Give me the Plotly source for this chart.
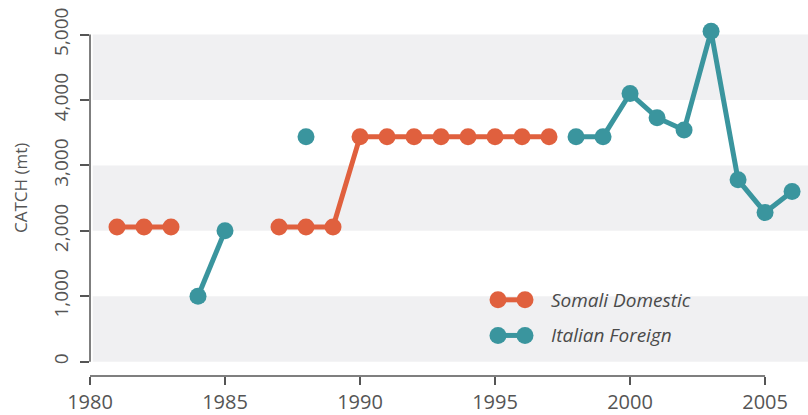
import plotly.graph_objects as go

# Annual catch (metric tonnes); None marks years with no record
somali_years = list(range(1981, 1998))
somali_catch = [2060, 2060, 2060, None, None, None, 2060, 2060, 2060,
                3440, 3440, 3440, 3440, 3440, 3440, 3440, 3440]

italian_years = [1984, 1985, 1986, 1988, 1989, 1998, 1999, 2000, 2001,
                 2002, 2003, 2004, 2005, 2006]
italian_catch = [1000, 2000, None, 3440, None, 3440, 3440, 4100, 3730,
                 3540, 5050, 2780, 2280, 2600]

x_ticks = [1980, 1985, 1990, 1995, 2000, 2005]
y_ticks = [0, 1000, 2000, 3000, 4000, 5000]
y_tick_text = ["0", "1,000", "2,000", "3,000", "4,000", "5,000"]

ORANGE = "#E0603E"
TEAL = "#3A959E"
BAND = "#F0F0F2"
AXIS = "#555555"
FONT = "Open Sans"

W, H = 808, 415
ML, MB = 90, 35
X_RANGE = [1980, 2006.59]
Y_RANGE = [-219, 5529]

fig = go.Figure()

fig.add_trace(go.Scatter(
    x=somali_years, y=somali_catch, mode="lines+markers",
    name="Somali Domestic", connectgaps=False,
    line=dict(color=ORANGE, width=5),
    marker=dict(color=ORANGE, size=17),
))
fig.add_trace(go.Scatter(
    x=italian_years, y=italian_catch, mode="lines+markers",
    name="Italian Foreign", connectgaps=False,
    line=dict(color=TEAL, width=5),
    marker=dict(color=TEAL, size=17),
))

shapes = []
# alternating background bands
for lo in (0, 2000, 4000):
    shapes.append(dict(type="rect", xref="x", yref="y", layer="below",
                       x0=1980.1, x1=X_RANGE[1], y0=lo, y1=lo + 1000,
                       fillcolor=BAND, line=dict(width=0)))
# detached axis lines
shapes.append(dict(type="line", xref="paper", yref="y", x0=0, x1=0,
                   y0=0, y1=5000, line=dict(color=AXIS, width=1.5)))
shapes.append(dict(type="line", xref="x", yref="paper", x0=1980, x1=2005,
                   y0=0, y1=0, line=dict(color=AXIS, width=1.5)))

# custom legend: a short line with a dot at each end
plot_w = W - ML
plot_h = H - MB


def px_x(p):
    return (p - ML) / plot_w


def px_y(p):
    return (plot_h - p) / plot_h


annotations = []
for label, color, py in (("Somali Domestic", ORANGE, 303),
                         ("Italian Foreign", TEAL, 339)):
    shapes.append(dict(type="line", xref="paper", yref="paper",
                       x0=px_x(498), x1=px_x(525), y0=px_y(py), y1=px_y(py),
                       line=dict(color=color, width=5)))
    for cx in (498, 525):
        shapes.append(dict(type="circle", xref="paper", yref="paper",
                           xsizemode="pixel", ysizemode="pixel",
                           xanchor=px_x(cx), yanchor=px_y(py),
                           x0=-8.5, x1=8.5, y0=-8.5, y1=8.5,
                           fillcolor=color, line=dict(width=0)))
    annotations.append(dict(xref="paper", yref="paper", x=px_x(549),
                            y=px_y(py), xanchor="left", yanchor="middle",
                            text=f"<i>{label}</i>", showarrow=False,
                            font=dict(family=FONT, size=19, color="#4a4a4a")))

annotations.append(dict(xref="paper", yref="paper", x=0, y=0.5,
                        xshift=-70, textangle=-90, showarrow=False,
                        text="CATCH (mt)", xanchor="center", yanchor="middle",
                        font=dict(family=FONT, size=17, color=AXIS)))

fig.update_layout(
    width=W, height=H,
    margin=dict(l=ML, r=0, t=0, b=MB),
    paper_bgcolor="white", plot_bgcolor="white",
    showlegend=False,
    shapes=shapes, annotations=annotations,
    font=dict(family=FONT, color=AXIS),
    xaxis=dict(range=X_RANGE, tickvals=x_ticks, ticks="outside", ticklen=8,
               tickwidth=1.5, tickcolor=AXIS, showgrid=False, zeroline=False,
               showline=False, tickfont=dict(size=20, color=AXIS)),
    yaxis=dict(range=Y_RANGE, tickvals=y_ticks, ticktext=y_tick_text,
               ticks="outside", ticklen=9, tickwidth=1.5, tickcolor=AXIS,
               tickangle=-90, showgrid=False, zeroline=False, showline=False,
               ticklabelstandoff=4,
               tickfont=dict(size=19, color=AXIS)),
)

fig.write_html("out.html")
